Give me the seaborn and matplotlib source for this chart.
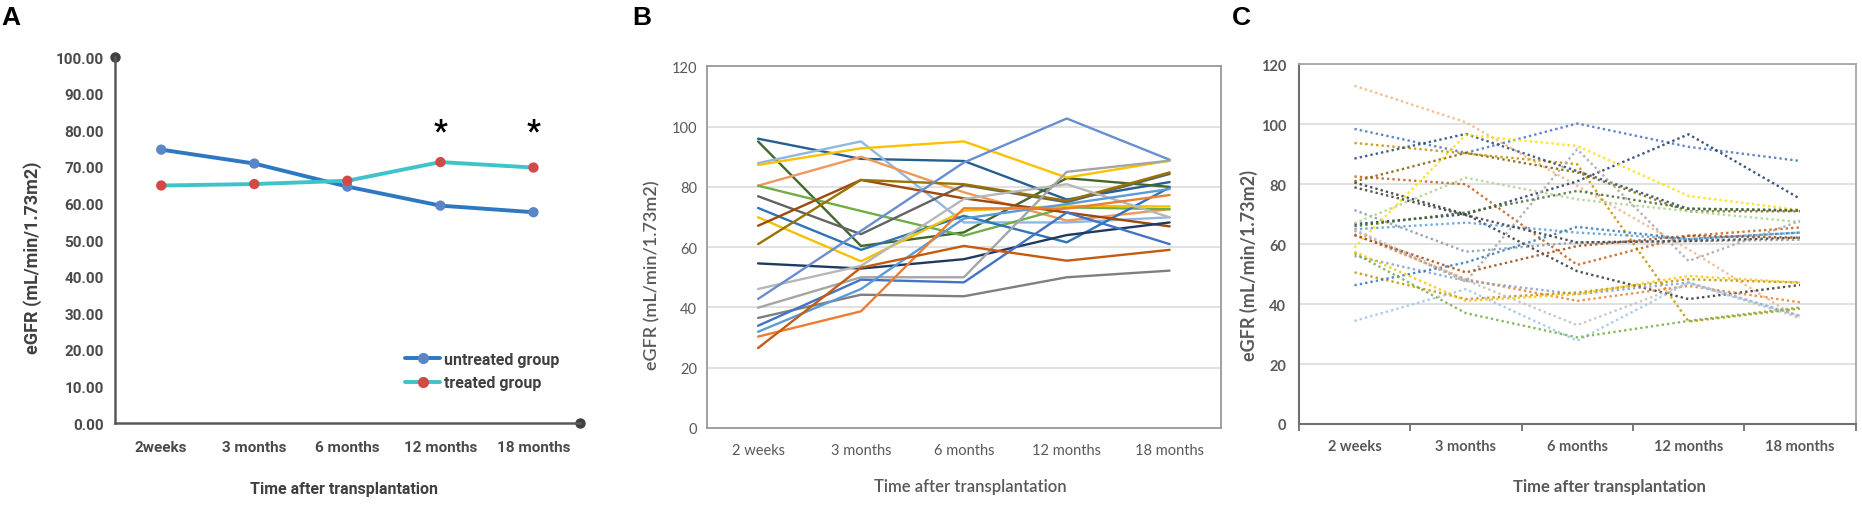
import numpy as np
import pandas as pd
import seaborn as sns
import matplotlib.pyplot as plt
from matplotlib.lines import Line2D
from matplotlib.ticker import FixedLocator

sns.set_theme(style="white")
plt.rcParams['font.family'] = ['Roboto', 'DejaVu Sans']

# ---------------- data ----------------
timepoints_a = ["2weeks", "3 months", "6 months", "12 months", "18 months"]
timepoints = ["2 weeks", "3 months", "6 months", "12 months", "18 months"]

untreated_mean = [74.7, 70.9, 64.6, 59.4, 57.6]
treated_mean = [64.9, 65.3, 66.2, 71.3, 69.8]
significant = [False, False, False, True, True]
star_level = 82

# panel B: treated group, individual patients (solid lines)
b01 = [96.0, 89.3, 88.6, 75.8, 81.6]
b02 = [95.1, 60.4, 64.9, 82.9, 80.0]
b03 = [87.9, 95.1, 68.2, 68.2, 69.9]
b04 = [87.3, 92.8, 95.1, 83.1, 88.7]
b05 = [80.4, 90.0, 78.2, 68.8, 72.6]
b06 = [80.4, 72.0, 63.8, 73.2, 72.6]
b07 = [76.9, 64.3, 80.6, 74.9, 84.3]
b08 = [73.0, 59.1, 70.4, 61.6, 79.8]
b09 = [69.9, 55.3, 72.1, 73.7, 73.5]
b10 = [67.1, 82.3, 76.2, 71.5, 66.9]
b11 = [61.0, 82.3, 80.9, 75.4, 84.8]
b12 = [54.6, 52.9, 56.0, 64.0, 68.2]
b13 = [46.1, 53.8, 76.0, 80.9, 69.9]
b14 = [42.8, 65.4, 88.1, 102.7, 89.0]
b15 = [39.9, 50.0, 50.0, 85.0, 88.7]
b16 = [36.5, 44.2, 43.7, 50.0, 52.2]
b17 = [33.9, 49.2, 48.3, 71.5, 61.0]
b18 = [31.9, 46.1, 69.5, 74.3, 79.3]
b19 = [30.3, 38.7, 72.9, 72.8, 77.3]
b20 = [26.5, 53.2, 60.4, 55.5, 59.1]
series_b = [b01, b02, b03, b04, b05, b06, b07, b08, b09, b10,
            b11, b12, b13, b14, b15, b16, b17, b18, b19, b20]
colors_b = ["#255E91", "#43682B", "#8DB8E2", "#FFC000", "#F1975A",
            "#70AD47", "#636363", "#2E75B6", "#F2C200", "#9E480E",
            "#997300", "#1F3864", "#B7B7B7", "#698ED0", "#A5A5A5",
            "#7F7F7F", "#4472C4", "#5B9BD5", "#ED7D31", "#C55A11"]

# panel C: untreated group, individual patients (dotted lines)
c01 = [112.9, 100.7, 79.5, 58.3, 35.0]
c02 = [98.5, 90.5, 100.3, 92.5, 87.8]
c03 = [93.8, 90.3, 86.7, 34.2, 38.5]
c04 = [88.6, 96.8, 84.4, 71.8, 71.2]
c05 = [66.7, 70.0, 81.0, 96.7, 75.2]
c06 = [82.6, 80.0, 53.1, 62.8, 65.6]
c07 = [80.6, 70.0, 51.0, 41.7, 46.4]
c08 = [81.0, 90.5, 84.0, 71.0, 71.0]
c09 = [71.4, 57.5, 60.6, 61.0, 61.5]
c10 = [67.0, 82.2, 75.0, 71.0, 67.4]
c11 = [65.0, 67.2, 63.9, 61.7, 63.9]
c12 = [63.3, 48.3, 41.1, 46.1, 40.6]
c13 = [58.9, 96.5, 92.8, 76.1, 71.4]
c14 = [56.1, 47.8, 43.3, 47.2, 36.1]
c15 = [50.6, 41.7, 43.9, 48.3, 47.2]
c16 = [46.3, 53.9, 65.8, 61.7, 63.9]
c17 = [34.4, 45.0, 27.8, 47.2, 36.1]
c18 = [64.5, 47.5, 91.7, 54.4, 67.8]
c19 = [57.0, 37.0, 28.9, 34.4, 38.9]
c20 = [57.5, 41.1, 43.3, 49.4, 47.2]
c21 = [63.0, 50.6, 59.4, 62.8, 62.2]
c22 = [79.0, 69.7, 60.6, 61.1, 62.2]
c23 = [66.0, 70.6, 77.8, 71.9, 71.4]
c24 = [65.0, 48.0, 33.0, 47.0, 35.5]
series_c = [c01, c02, c03, c04, c05, c06, c07, c08, c09, c10, c11, c12,
            c13, c14, c15, c16, c17, c18, c19, c20, c21, c22, c23, c24]
colors_c = ["#F4B183", "#4472C4", "#BF9000", "#264478", "#1F3864", "#C55A11",
            "#333333", "#7F6000", "#8497B0", "#A9D18E", "#5B9BD5", "#ED7D31",
            "#FFE000", "#7F9FCF", "#BF9000", "#2E75B6", "#9DC3E6", "#A5A5A5",
            "#70AD47", "#FFC000", "#9E480E", "#3B3B3B", "#43682B", "#BFBFBF"]

# ---------------- frames ----------------
dfA = pd.DataFrame({
    "time": timepoints_a * 2,
    "eGFR": untreated_mean + treated_mean,
    "group": ["untreated group"] * 5 + ["treated group"] * 5,
})

def long_frame(series, times, prefix):
    rows = []
    for i, s in enumerate(series):
        for t, v in zip(times, s):
            rows.append({"time": t, "eGFR": v, "patient": f"{prefix}{i + 1:02d}"})
    return pd.DataFrame(rows)

dfB = long_frame(series_b, timepoints, "B")
dfC = long_frame(series_c, timepoints, "C")

# ---------------- figure ----------------
fig = plt.figure(figsize=(18.62, 5.06), dpi=100)
axA = fig.add_axes([0.0616, 0.162, 0.2499, 0.7233])
axB = fig.add_axes([0.3795, 0.1524, 0.2763, 0.7144])
axC = fig.add_axes([0.6975, 0.1601, 0.2991, 0.7105])

A_FONT = ["Roboto", "DejaVu Sans"]
LC_FONT = ["Lato", "DejaVu Sans"]

# ---- Panel A ----
line_pal = {"untreated group": "#2E78C2", "treated group": "#3EC4C8"}
mark_pal = {"untreated group": "#5A86C8", "treated group": "#D04A48"}
sns.lineplot(data=dfA, x="time", y="eGFR", hue="group", palette=line_pal,
             lw=2.8, sort=False, legend=False, ax=axA, zorder=3)
sns.scatterplot(data=dfA, x="time", y="eGFR", hue="group", palette=mark_pal,
                s=55, edgecolor="none", legend=False, ax=axA, zorder=4, clip_on=False)
axA.set_xlim(-0.5, 4.5)
axA.set_ylim(0, 100)
yt = np.arange(0, 101, 10)
axA.set_yticks(yt)
axA.set_yticklabels([f"{v:.2f}" for v in yt])
for s in ["top", "right"]:
    axA.spines[s].set_visible(False)
for s in ["left", "bottom"]:
    axA.spines[s].set_color("#595959")
    axA.spines[s].set_linewidth(1.8)
axA.plot([0], [1], "o", transform=axA.transAxes, ms=6.5, color="#404040", clip_on=False)
axA.plot([1], [0], "o", transform=axA.transAxes, ms=6.5, color="#404040", clip_on=False)
axA.tick_params(axis="both", length=0, labelsize=11, labelcolor="#4A4A4A")
axA.tick_params(axis="y", pad=8)
axA.tick_params(axis="x", pad=12)
for lab in axA.get_xticklabels() + axA.get_yticklabels():
    lab.set_family(A_FONT)
    lab.set_fontweight("bold")
axA.set_xlabel("Time after transplantation", fontsize=11.5, fontweight="bold",
               color="#404040", family=A_FONT)
axA.set_ylabel("eGFR (mL/min/1.73m2)", fontsize=13, fontweight="bold",
               color="#404040", family=A_FONT)
axA.xaxis.set_label_coords(0.493, -0.158)
axA.yaxis.set_label_coords(-0.156, 0.4536)
for i, sig in enumerate(significant):
    if sig:
        axA.text(i, star_level - 4.5, "*", ha="center", va="baseline",
                 fontsize=22, fontweight="bold", color="black", family=A_FONT)
handles = [Line2D([0], [0], color=line_pal[g], lw=2.8, marker="o",
                  markerfacecolor=mark_pal[g], markeredgecolor=mark_pal[g], markersize=7)
           for g in ["untreated group", "treated group"]]
leg = axA.legend(handles, ["untreated group", "treated group"], loc="upper left",
                 bbox_to_anchor=(0.624, 0.195), frameon=False, borderpad=0,
                 borderaxespad=0, handlelength=2.2, handletextpad=0.25,
                 labelspacing=0.55, prop={"family": A_FONT, "weight": "bold", "size": 11.5})
for t in leg.get_texts():
    t.set_color("#404040")

# ---- Panels B and C common styling ----
def style_panel(ax, bold):
    ax.set_xlim(-0.5, 4.5)
    ax.set_ylim(0, 120)
    ax.set_yticks(np.arange(0, 121, 20))
    ax.yaxis.grid(True, color="#D9D9D9", lw=1.1)
    ax.xaxis.grid(False)
    ax.set_axisbelow(True)
    w = "bold" if bold else "normal"
    ax.tick_params(axis="both", length=0, labelsize=10.5, labelcolor="#595959")
    for lab in ax.get_xticklabels() + ax.get_yticklabels():
        lab.set_family(LC_FONT)
        lab.set_fontweight(w)

# ---- Panel B ----
order_b = [f"B{i + 1:02d}" for i in range(len(series_b))]
sns.lineplot(data=dfB, x="time", y="eGFR", hue="patient", hue_order=order_b,
             palette=colors_b, lw=1.7, sort=False, legend=False, ax=axB)
style_panel(axB, bold=False)
axB.tick_params(axis="y", pad=7)
axB.tick_params(axis="x", pad=11)
for s in axB.spines.values():
    s.set_color("#9A9A9A")
    s.set_linewidth(1.3)
axB.set_xlabel("Time after transplantation", fontsize=12, fontweight="semibold",
               color="#595959", family=LC_FONT)
axB.set_ylabel("eGFR (mL/min/1.73m2)", fontsize=13, fontweight="semibold",
               color="#595959", family=LC_FONT)
axB.xaxis.set_label_coords(0.512, -0.1386)
axB.yaxis.set_label_coords(-0.0906, 0.4257)

# ---- Panel C ----
order_c = [f"C{i + 1:02d}" for i in range(len(series_c))]
sns.lineplot(data=dfC, x="time", y="eGFR", hue="patient", hue_order=order_c,
             palette=colors_c, lw=1.7, alpha=0.85, linestyle=(0, (1, 1.3)), sort=False,
             legend=False, ax=axC)
style_panel(axC, bold=True)
axC.tick_params(axis="y", pad=9)
axC.tick_params(axis="x", pad=11)
axC.xaxis.set_minor_locator(FixedLocator([-0.5, 0.5, 1.5, 2.5, 3.5, 4.5]))
axC.tick_params(axis="x", which="minor", length=5, width=1.3, color="#707070",
                direction="out", bottom=True)
for s in ["top", "right"]:
    axC.spines[s].set_color("#A6A6A6")
    axC.spines[s].set_linewidth(1.3)
for s in ["left", "bottom"]:
    axC.spines[s].set_color("#707070")
    axC.spines[s].set_linewidth(1.5)
axC.set_xlabel("Time after transplantation", fontsize=12, fontweight="bold",
               color="#595959", family=LC_FONT)
axC.set_ylabel("eGFR (mL/min/1.73m2)", fontsize=13, fontweight="bold",
               color="#595959", family=LC_FONT)
axC.xaxis.set_label_coords(0.558, -0.1516)
axC.yaxis.set_label_coords(-0.073, 0.4437)

# ---- panel letters ----
for letter, xpx in [("A", 1), ("B", 632), ("C", 1232)]:
    fig.text(xpx / 1862, 1 - 6 / 506, letter, ha="left", va="top", fontsize=19,
             fontweight="bold", family=["Liberation Sans", "DejaVu Sans"], color="black")

fig.savefig("out.png", dpi=100)
